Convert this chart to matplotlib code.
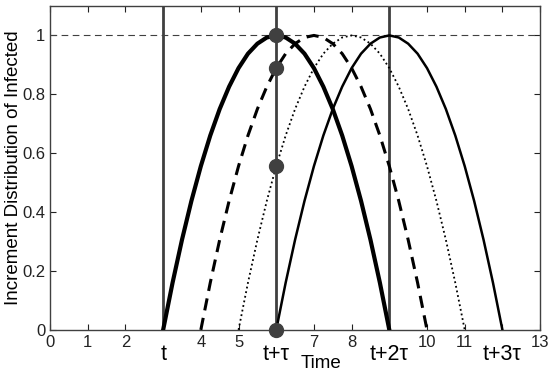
import matplotlib
matplotlib.use("Agg")
import matplotlib.pyplot as plt
import numpy as np

plt.rcParams['font.family'] = ['Liberation Sans', 'DejaVu Sans']

# pulse profile (offset from pulse start, height)
profile_dx = [0, 0.25, 0.5, 0.75, 1, 1.25, 1.5, 1.75, 2, 2.25, 2.5, 2.75, 3,
              3.25, 3.5, 3.75, 4, 4.25, 4.5, 4.75, 5, 5.25, 5.5, 5.75, 6]
profile_y = [0, 0.160, 0.306, 0.438, 0.556, 0.660, 0.750, 0.826, 0.889, 0.938, 0.972, 0.993, 1.0,
             0.993, 0.972, 0.938, 0.889, 0.826, 0.750, 0.660, 0.556, 0.438, 0.306, 0.160, 0]
curve_starts = [3, 4, 5, 6]
vlines_x = [3, 6, 9]
marker_x = [6, 6, 6, 6]
marker_y = [1.0, 0.889, 0.556, 0.0]
num_ticks = [0, 1, 2, 4, 5, 7, 8, 10, 11, 13]
t_ticks = [3, 6, 9, 12]
t_labels = ['t', 't+τ', 't+2τ', 't+3τ']

fig = plt.figure(figsize=(5.5, 3.74), dpi=100)
ax = fig.add_axes([0.091, 0.118, 0.891, 0.866])

gray = '#404040'
styles = [dict(color='black', lw=3.0, ls='-'),
          dict(color='black', lw=2.2, ls=(0, (4, 2.5))),
          dict(color='black', lw=1.3, ls=(0, (1, 1.6))),
          dict(color='black', lw=1.8, ls='-')]
for s, st in zip(curve_starts, styles):
    ax.plot(np.array(profile_dx) + s, profile_y, **st, zorder=3)

ax.axhline(1.0, color=gray, lw=0.8, ls=(0, (6, 4)), zorder=2)
for vx in vlines_x:
    ax.axvline(vx, color=gray, lw=2.0, zorder=2)
ax.plot(marker_x, marker_y, 'o', color=gray, ms=10, zorder=5, clip_on=False)

ax.set_xlim(0, 13)
ax.set_ylim(0, 1.1)
ax.set_xticks(sorted(num_ticks + t_ticks))
ax.set_xticklabels(['' if v in t_ticks else str(v) for v in sorted(num_ticks + t_ticks)])
ax.set_yticks([0, 0.2, 0.4, 0.6, 0.8, 1.0])
ax.set_yticklabels(['0', '0.2', '0.4', '0.6', '0.8', '1'])
ax.tick_params(direction='in', top=True, right=True, labelsize=12, length=4, pad=3.5, colors='#222222')
for sp in ax.spines.values():
    sp.set_color(gray)
    sp.set_linewidth(1.0)
for x, lab in zip(t_ticks, t_labels):
    ax.text(x, -0.045, lab, transform=ax.get_xaxis_transform(), ha='center', va='top', fontsize=15.5)

ax.set_ylabel('Increment Distribution of Infected', fontsize=13.5)
ax.yaxis.set_label_coords(-0.057, 0.5)
fig.text(321 / 550, 1 - 363 / 374, 'Time', ha='center', va='center', fontsize=13.5)

fig.savefig('out.png', dpi=100)
